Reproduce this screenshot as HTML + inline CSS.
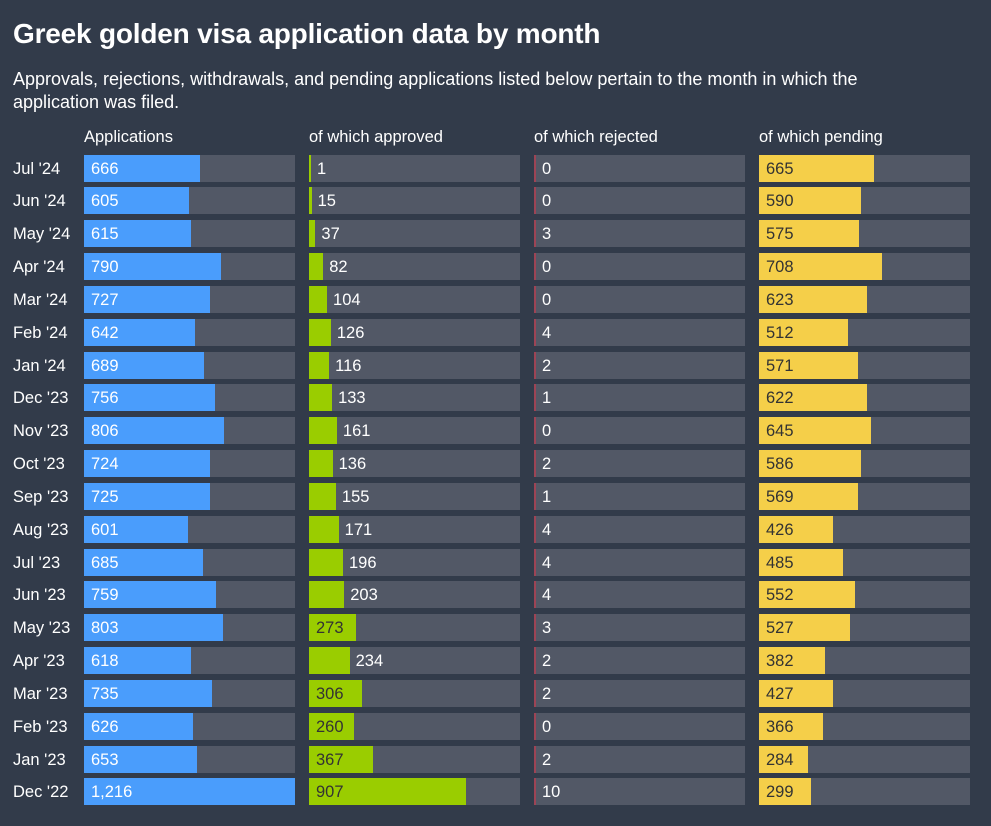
<!DOCTYPE html>
<html><head><meta charset="utf-8"><style>
body{margin:0;background:#323b4a;width:991px;height:826px;overflow:hidden;font-family:"Liberation Sans",sans-serif;color:#fff;position:relative}
h1{position:absolute;left:13px;top:18px;margin:0;font-size:28px;font-weight:bold;letter-spacing:-0.2px}
p{position:absolute;left:13px;top:68px;margin:0;font-size:18px;line-height:23px;width:920px}
.ch{position:absolute;top:128px;font-size:16.5px}
.rl{position:absolute;left:13px;font-size:16.5px;line-height:28px}
.tr{position:absolute;height:27px;width:211px;background:#525866}
.b{position:absolute;left:0;top:0;height:27px}
.v{position:absolute;top:0;line-height:28px;font-size:16.5px}
</style></head><body>
<h1>Greek golden visa application data by month</h1>
<p>Approvals, rejections, withdrawals, and pending applications listed below pertain to the month in which the application was filed.</p>
<div class="ch" style="left:84px">Applications</div>
<div class="ch" style="left:309px">of which approved</div>
<div class="ch" style="left:534px">of which rejected</div>
<div class="ch" style="left:759px">of which pending</div>
<div id="chart"></div>
<script>
const months=["Jul '24","Jun '24","May '24","Apr '24","Mar '24","Feb '24","Jan '24","Dec '23","Nov '23","Oct '23","Sep '23","Aug '23","Jul '23","Jun '23","May '23","Apr '23","Mar '23","Feb '23","Jan '23","Dec '22"];
const applications=[666,605,615,790,727,642,689,756,806,724,725,601,685,759,803,618,735,626,653,1216];
const approved=[1,15,37,82,104,126,116,133,161,136,155,171,196,203,273,234,306,260,367,907];
const rejected=[0,0,3,0,0,4,2,1,0,2,1,4,4,4,3,2,2,0,2,10];
const pending=[665,590,575,708,623,512,571,622,645,586,569,426,485,552,527,382,427,366,284,299];
const maxV=1216, W=211, top0=154.5, pitch=32.84;
const x=v=>v/maxV*W;
const cols=[
 {data:applications,left:84,color:"#4a9dfc",inText:"#fff",name:"applications"},
 {data:approved,left:309,color:"#9acd00",inText:"#333",name:"approved"},
 {data:rejected,left:534,color:"#d0374a",inText:"#fff",name:"rejected"},
 {data:pending,left:759,color:"#f5cf49",inText:"#333",name:"pending"}];
const root=document.getElementById('chart');
months.forEach((m,i)=>{
 const y=top0+i*pitch;
 const l=document.createElement('div');l.className='rl';l.style.top=y+'px';l.textContent=m;
 
 
 root.appendChild(l);
 cols.forEach(c=>{
  const v=c.data[i];
  const t=document.createElement('div');t.className='tr';t.style.left=c.left+'px';t.style.top=y+'px';
  
  
  const b=document.createElement('div');b.className='b';
  b.style.width=Math.max(x(v),v>0?1.5:1)+'px';b.style.background=c.color;
  if(v===0&&c.name!=='rejected')b.style.width='0';
  if(c.name==='rejected'||v<=1){b.style.width='2px';b.style.opacity=c.name==='rejected'?'0.6':'1';}
  
  
  t.appendChild(b);
  const s=document.createElement('div');s.className='v';s.textContent=v.toLocaleString('en-US');
  const bw=x(v);
  if(bw>45){s.style.left='7px';s.style.color=c.inText;}
  else{s.style.left=(Math.max(bw,2)+6)+'px';s.style.color='#fff';}
  
  
  t.appendChild(s);
  root.appendChild(t);
 });
});
</script>
</body></html>
